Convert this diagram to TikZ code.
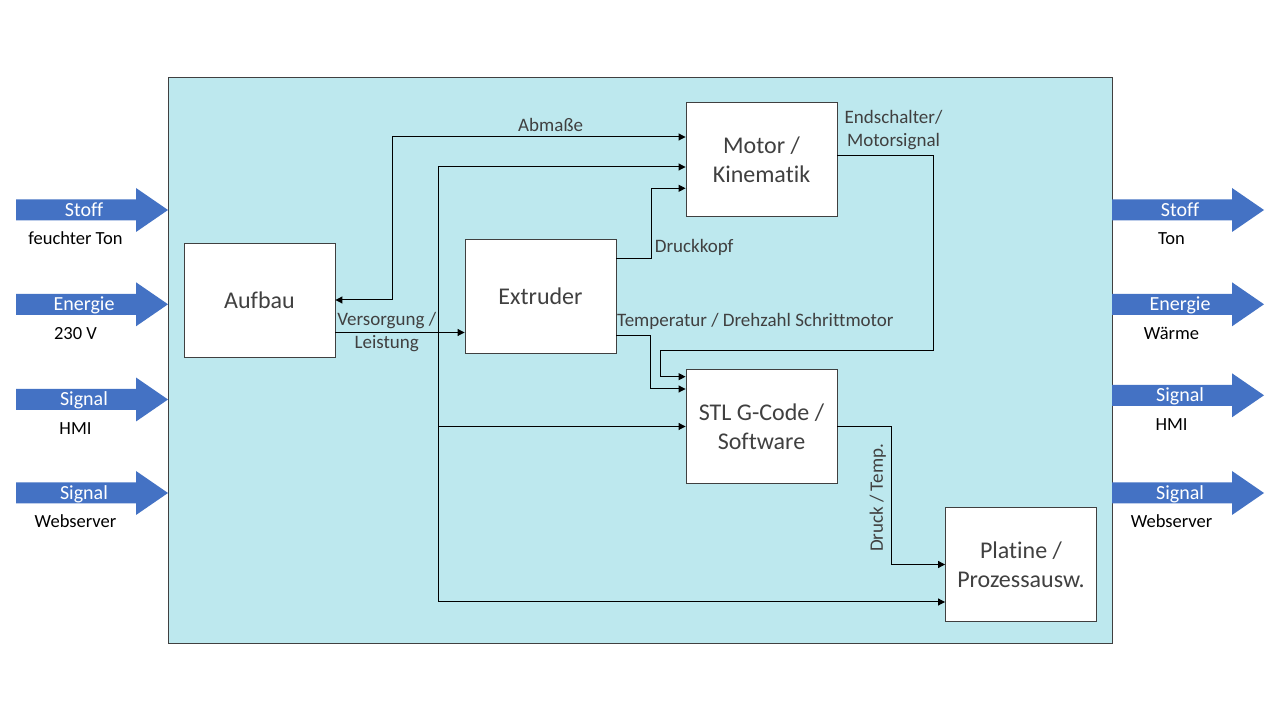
\documentclass[tikz,border=0pt]{standalone}
\usepackage{fontspec}
\setmainfont{Carlito}[Ligatures={NoCommon,NoRequired}]
\usepackage{tikz}
\usetikzlibrary{calc}
\usetikzlibrary{arrows.meta}
\definecolor{systemblau}{HTML}{BDE8EE}
\definecolor{pfeilblau}{HTML}{4472C4}
\definecolor{dunkelgrau}{HTML}{404040}
\newcommand{\flusspfeil}[5]{
	\begin{scope}[xshift=#1 pt,yshift=#2 pt]
		\fill [pfeilblau] (0,-10.5)--(120,-10.5)--(120,-22)--(152,0)--(120,22)--(120,10.5)--(0,10.5) -- cycle;
		\node [pfeiltext] (#3) at (68,0) {#4};
		\node [pfeillabel] (#3-text) at (59.5,-29) {#5};
	\end{scope}
}

\begin{document}
\begin{tikzpicture}[x=1pt,y=1pt,>={Triangle[length=7pt,width=7pt]},
	block/.style={draw=dunkelgrau,fill=white,line width=0.9pt,minimum width=151pt,minimum height=114pt,inner sep=0pt,align=center,text=dunkelgrau,font=\fontsize{24}{29}\selectfont},
	beschriftung/.style={inner sep=0pt,text=dunkelgrau,font=\fontsize{19}{23}\selectfont},
	pfeiltext/.style={inner sep=0pt,text height=13pt,text depth=0pt,text=white,font=\fontsize{20}{24}\selectfont},
	pfeillabel/.style={inner sep=0pt,text height=12pt,text depth=0pt,text=black,font=\fontsize{18.5}{22}\selectfont},
	leitung/.style={line width=1pt}]
\fill [white] (0,0) rectangle (1280,720);
\useasboundingbox (0,0) rectangle (1280,720);
\node [draw=dunkelgrau,fill=systemblau,line width=0.9pt,minimum width=944pt,minimum height=566pt,inner sep=0pt] (system) at (640,360) {};

\flusspfeil{16}{510}{stoff-ein}{Stoff}{feuchter Ton}
\flusspfeil{16}{415.7}{energie-ein}{Energie}{230 V}
\flusspfeil{16}{320.5}{signal-ein}{Signal}{HMI}
\flusspfeil{16}{227}{web-ein}{Signal}{Webserver}
\flusspfeil{1112}{510}{stoff-aus}{Stoff}{Ton}
\flusspfeil{1112}{415.7}{energie-aus}{Energie}{Wärme}
\flusspfeil{1112}{324.7}{signal-aus}{Signal}{HMI}
\flusspfeil{1112}{227}{web-aus}{Signal}{Webserver}

\node [block] (aufbau) at (259.5,420) {Aufbau};
\node [block] (extruder) at (540.5,424) {Extruder};
\node [block] (motor) at (761.5,560.5) {Motor /\\Kinematik};
\node [block] (software) at (761.5,293.5) {STL G-Code /\\Software};
\node [block] (platine) at (1021,155.5) {Platine /\\Prozessausw.};

\coordinate (busoben) at (438,553);
\coordinate (busunten) at (438,118);
\coordinate (versorgung) at ([yshift=-32.5pt]aufbau.east);

\draw [leitung,<->] (aufbau.east) -- ++(57,0) |- ([yshift=22.5pt]motor.west);
\draw [leitung] (busoben) -- (busunten);
\draw [leitung,->] (busoben) -- (busoben -| motor.west);
\draw [leitung,->] (busoben |- software.west) -- (software.west);
\draw [leitung,->] (busunten) -- (busunten -| platine.west);
\draw [leitung,->] (versorgung) -- (versorgung -| extruder.west);
\draw [leitung,->] ([yshift=37.7pt]extruder.east) -- ++(35,0) |- ([yshift=-28.8pt]motor.west);
\draw [leitung,->] ([yshift=-39.7pt]extruder.east) -- ++(34.5,0) |- ([yshift=37.5pt]software.west);
\draw [leitung,->] ([yshift=3.8pt]motor.east) -- ++(96,0) |- (660.8,369) |- ([yshift=49.8pt]software.west);
\draw [leitung,->] (software.east) -- ++(54.4,0) |- (platine.west);

\node [beschriftung] (abmasse) at (550.6,595) {Abmaße};
\node [beschriftung,align=center] (versorgung-text) at (386.7,388.3) {Versorgung /\\Leistung};
\node [beschriftung,anchor=west] (druckkopf) at (654.7,472.3) {Druckkopf};
\node [beschriftung,anchor=west] (temperatur) at (617,398.3) {Temperatur / Drehzahl Schrittmotor};
\node [beschriftung,align=center] (endschalter) at (893.5,590.4) {Endschalter/\\Motorsignal};
\node [beschriftung,rotate=90] (druck) at (877.7,222) {Druck / Temp.};
\end{tikzpicture}
\end{document}
